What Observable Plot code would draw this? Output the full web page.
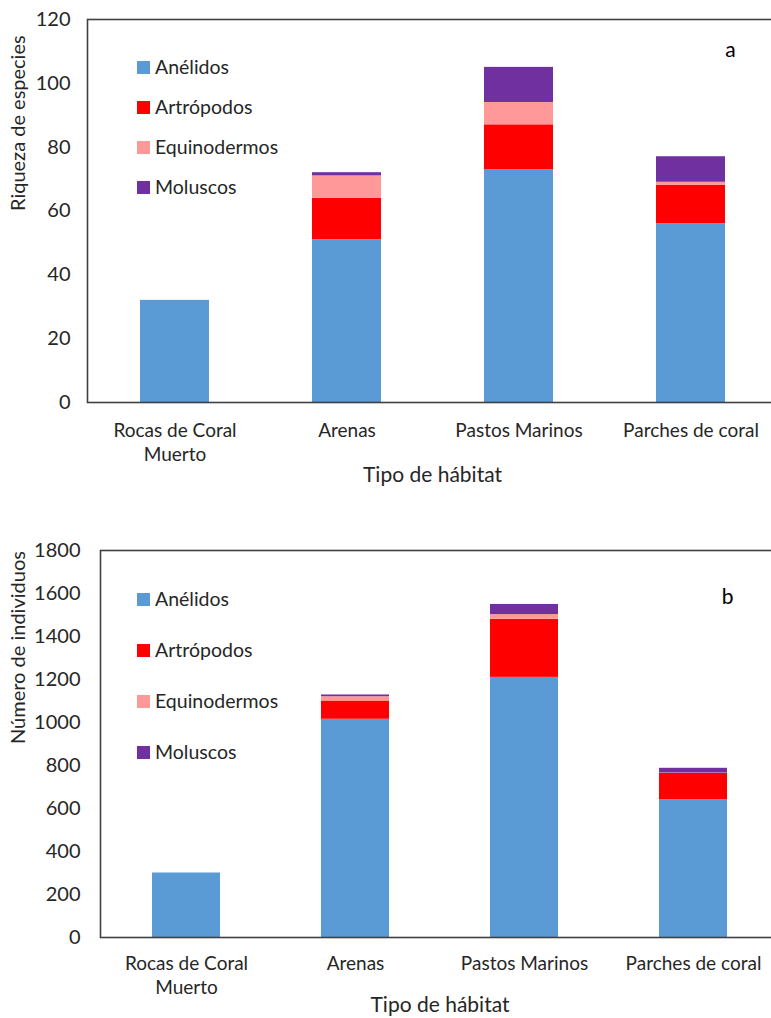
<!DOCTYPE html>
<html><head><meta charset="utf-8">
<script src="https://cdn.jsdelivr.net/npm/d3@7"></script>
<script src="https://cdn.jsdelivr.net/npm/@observablehq/plot@0.6"></script>
<style>
body{margin:0;background:#fff;overflow:hidden;font-family:Lato,sans-serif;}
#wrap{position:relative;width:771px;height:1018px;overflow:hidden;}
#wrap svg{overflow:hidden !important;max-width:none !important;display:block;}
.leg{position:absolute;display:flex;align-items:center;font-size:19.5px;color:#262626;font-family:Lato,sans-serif;line-height:1;}
.sw{width:13px;height:13px;margin-right:5px;flex:none;}
</style></head><body><div id="wrap"></div><script>
const habitats = ["Rocas de Coral\nMuerto", "Arenas", "Pastos Marinos", "Parches de coral"];
const groups = ["Anélidos", "Artrópodos", "Equinodermos", "Moluscos"];
const colors = ["#5B9BD5", "#FF0000", "#FF9999", "#7030A0"];

// (a) Riqueza de especies
const riqAnelidos = [32, 51, 73, 56];
const riqArtropodos = [0, 13, 14, 12];
const riqEquinodermos = [0, 7, 7, 1];
const riqMoluscos = [0, 1, 11, 8];
const riqTicks = [0, 20, 40, 60, 80, 100, 120];

// (b) Número de individuos
const indAnelidos = [300, 1015, 1210, 640];
const indArtropodos = [0, 85, 270, 123];
const indEquinodermos = [0, 20, 22, 2];
const indMoluscos = [0, 8, 47, 22];
const indTicks = [0, 200, 400, 600, 800, 1000, 1200, 1400, 1600, 1800];

const xTitle = "Tipo de hábitat";

function tidy(series) {
  const rows = [];
  habitats.forEach((h, i) => groups.forEach((g, j) => rows.push({habitat: h, group: g, value: series[j][i]})));
  return rows;
}

function chart(cfg) {
  const W = 771;
  return Plot.plot({
    width: W, height: cfg.height,
    marginLeft: cfg.ml, marginRight: -10, marginTop: cfg.mt, marginBottom: cfg.mb,
    style: {fontFamily: "Lato, sans-serif", color: "#262626", background: "white", overflow: "hidden"},
    // the plot area runs past the right edge of the picture (cropped like the original)
    x: {domain: habitats, range: [cfg.ml, W + cfg.overrun], paddingInner: 0.6, paddingOuter: 0.3, axis: null},
    y: {domain: [0, cfg.ticks[cfg.ticks.length - 1]], axis: null},
    color: {domain: groups, range: colors},
    marks: [
      Plot.barY(tidy(cfg.series), {x: "habitat", y: "value", fill: "group"}),
      Plot.axisY({ticks: cfg.ticks, tickFormat: d3.format("d"), tickSize: 0, tickPadding: cfg.ytp, fontSize: 20, label: null}),
      Plot.axisX({tickSize: 0, tickPadding: cfg.xtp, fontSize: 19, lineHeight: 1.27, label: null}),
      Plot.frame({stroke: "#404040", strokeWidth: 1.6}),
      Plot.text([cfg.ylabel], {frameAnchor: "left", dx: -(cfg.ml - 18), rotate: -90, fontSize: 20, fill: "#262626"}),
      Plot.text([xTitle], {frameAnchor: "bottom", dx: cfg.xdx, dy: cfg.xdy, lineAnchor: "middle", fontSize: 21, fill: "#262626"}),
      Plot.text([cfg.tag], {frameAnchor: "top-right", dx: cfg.tagdx, dy: cfg.tagdy, lineAnchor: "middle", textAnchor: "middle", fontSize: 21, fill: "#000"})
    ]
  });
}

const wrap = document.getElementById("wrap");

function addPanel(top, cfg, legendYs) {
  wrap.appendChild(chart(cfg));
  groups.forEach((g, i) => {
    const l = document.createElement("div");
    l.className = "leg";
    l.style.left = "137px";
    l.style.top = (top + legendYs[i] - 10) + "px";
    l.style.height = "20px";
    l.innerHTML = `<span class="sw" style="background:${colors[i]}"></span><span>${g}</span>`;
    wrap.appendChild(l);
  });
}

addPanel(0, {
  height: 500, ml: 87, mt: 19, mb: 98, overrun: 6,
  ticks: riqTicks, series: [riqAnelidos, riqArtropodos, riqEquinodermos, riqMoluscos],
  ylabel: "Riqueza de especies", ytp: 17, xtp: 17, xdx: -2, xdy: 73,
  tag: "a", tagdx: -51, tagdy: 31
}, [67, 107, 147, 187]);

addPanel(500, {
  height: 518, ml: 100, mt: 50, mb: 81, overrun: 8,
  ticks: indTicks, series: [indAnelidos, indArtropodos, indEquinodermos, indMoluscos],
  ylabel: "Número de individuos", ytp: 20, xtp: 15, xdx: -1, xdy: 68,
  tag: "b", tagdx: -54, tagdy: 47
}, [99, 150, 201, 252]);
</script></body></html>
